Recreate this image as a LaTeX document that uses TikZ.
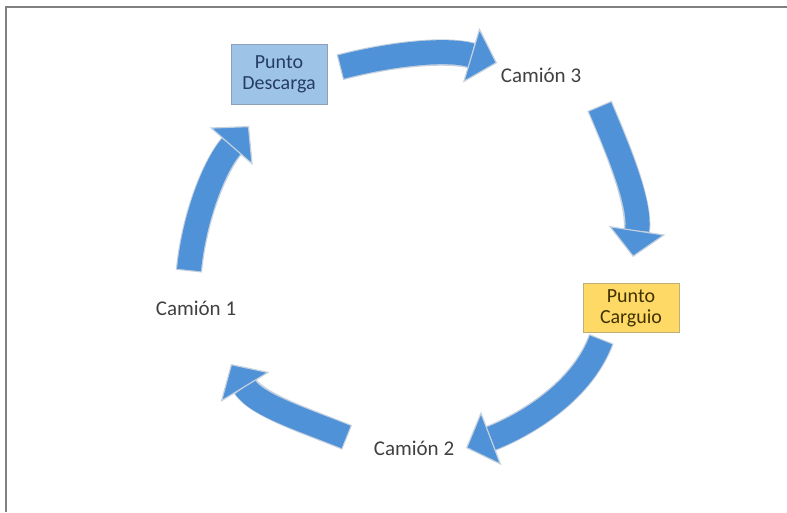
\documentclass[tikz,border=0pt]{standalone}
\usepackage{fontspec}
\setmainfont{Carlito}
\usetikzlibrary{arrows.meta}
\definecolor{cycleblue}{RGB}{79,146,216}
\definecolor{cycleedge}{RGB}{196,208,222}
\definecolor{descblue}{RGB}{157,195,230}
\definecolor{descline}{RGB}{140,160,185}
\definecolor{descnavy}{RGB}{38,60,100}
\definecolor{cargyellow}{RGB}{255,217,102}
\definecolor{cargline}{RGB}{190,175,120}
\definecolor{cargbrown}{RGB}{64,50,0}
\definecolor{framegray}{RGB}{128,128,128}
\definecolor{labelgray}{RGB}{64,64,64}

\begin{document}
\begin{tikzpicture}[x=1pt,y=-1pt,
  station/.style={draw,line width=0.8pt,minimum width=96pt,inner sep=0pt,align=center,font=\fontsize{20}{21}\selectfont},
  truck/.style={text=labelgray,font=\fontsize{21}{25}\selectfont},
  cyclearrow/.style={draw=cycleblue,line width=24pt,
    -{Triangle[length=27pt,width=57pt,line width=1.2pt,fill=cycleblue,color=cycleedge]},
    preaction={draw=cycleedge,line width=26.4pt,-,shorten >=23pt,shorten <=-1.2pt}}]
\useasboundingbox (0,0) rectangle (787,512);
\draw[framegray,line width=2pt] (6,512) -- (6,7) -- (787,7);

\node[station,fill=descblue,draw=descline,text=descnavy,minimum height=60pt] (descarga) at (279,74) {Punto\\Descarga};
\node[station,fill=cargyellow,draw=cargline,text=cargbrown,minimum height=49pt] (carguio) at (631,308) {Punto\\Carguio};
\node[truck] (camion3) at (541,75) {Camión 3};
\node[truck] (camion2) at (414,448) {Camión 2};
\node[truck] (camion1) at (196,308) {Camión 1};

\coordinate (t1) at (341,67);  \coordinate (h1) at (497,63);
\coordinate (t2) at (600,107); \coordinate (h2) at (633,257);
\coordinate (t3) at (601,340); \coordinate (h3) at (466,448);
\coordinate (t4) at (346,437); \coordinate (h4) at (231,364);
\coordinate (t5) at (189,270); \coordinate (h5) at (249,126);

\draw[cyclearrow] (t1) .. controls (391,54) and (447,48) .. (h1);
\draw[cyclearrow] (t2) .. controls (620,154) and (641,205) .. (h2);
\draw[cyclearrow] (t3) .. controls (581,394) and (521,427) .. (h3);
\draw[cyclearrow] (t4) .. controls (304,420) and (256,405) .. (h4);
\draw[cyclearrow] (t5) .. controls (194,218) and (214,166) .. (h5);
\end{tikzpicture}
\end{document}
